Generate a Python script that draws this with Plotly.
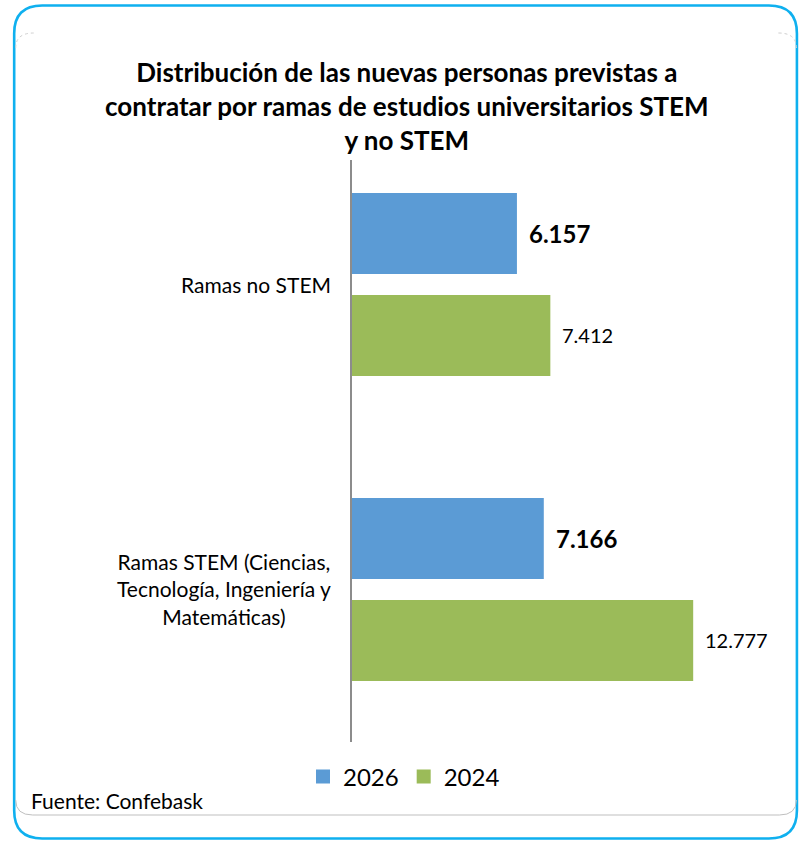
import plotly.graph_objects as go

categories = ["Ramas STEM (Ciencias,<br>Tecnología, Ingeniería y<br>Matemáticas)", "Ramas no STEM"]
values_2026 = [7166, 6157]
values_2024 = [12777, 7412]
labels_2026 = ["7.166", "6.157"]
labels_2024 = ["12.777", "7.412"]
series_names = ["2026", "2024"]
title_text = "<b>Distribución de las nuevas personas previstas a<br>contratar por ramas de estudios universitarios STEM<br>y no STEM</b>"
source_text = "Fuente: Confebask"

BLUE = "#5b9bd5"
GREEN = "#9bbb59"
FRAME = "#0fb0ef"
FONT = "Lato, Carlito, Calibri, sans-serif"

W, H = 802, 841
PL, PR, PT, PB = 352, 777.6, 160, 742          # plot area in page pixels
L, T = PL, PT
R, B = W - PR, H - PB
PW, PH = PR - PL, PB - PT


def px(x):
    return (x - PL) / PW


def py(y):
    return (PB - y) / PH


def P(x, y):
    return f"{px(x):.5f},{py(y):.5f}"


def rounded_path(x0, y0, x1, y1, r):
    return (f"M {P(x0 + r, y0)} L {P(x1 - r, y0)} Q {P(x1, y0)} {P(x1, y0 + r)} "
            f"L {P(x1, y1 - r)} Q {P(x1, y1)} {P(x1 - r, y1)} L {P(x0 + r, y1)} "
            f"Q {P(x0, y1)} {P(x0, y1 - r)} L {P(x0, y0 + r)} Q {P(x0, y0)} {P(x0 + r, y0)} Z")


fig = go.Figure()
fig.add_trace(go.Bar(
    y=categories, x=values_2024, orientation="h", name=series_names[1],
    marker=dict(color=GREEN, line=dict(width=2, color=GREEN)), legendrank=2,
))
fig.add_trace(go.Bar(
    y=categories, x=values_2026, orientation="h", name=series_names[0],
    marker=dict(color=BLUE, line=dict(width=2, color=BLUE)), legendrank=1,
))

annotations = []
for cat, v, t in zip(categories, values_2026, labels_2026):
    annotations.append(dict(x=v, y=cat, xref="x", yref="y", text=f"<b>{t}</b>", showarrow=False,
                            xanchor="left", yanchor="middle", xshift=11, yshift=51,
                            font=dict(family=FONT, size=24, color="#000000")))
for cat, v, t in zip(categories, values_2024, labels_2024):
    annotations.append(dict(x=v, y=cat, xref="x", yref="y", text=t, showarrow=False,
                            xanchor="left", yanchor="middle", xshift=11, yshift=-51,
                            font=dict(family=FONT, size=20, color="#000000")))
for cat in categories:
    annotations.append(dict(x=px(333), y=cat, xref="paper", yref="y", text=cat, showarrow=False,
                            xanchor="right", yanchor="middle", align="center",
                            font=dict(family=FONT, size=21, color="#000000")))
annotations.append(dict(x=px(29), y=py(800), xref="paper", yref="paper", text=source_text,
                        showarrow=False, xanchor="left", yanchor="middle",
                        font=dict(family=FONT, size=21, color="#000000")))
annotations.append(dict(x=px(407), y=py(54), xref="paper", yref="paper", text=title_text,
                        showarrow=False, xanchor="center", yanchor="top", align="center",
                        font=dict(family=FONT, size=26, color="#000000")))

shapes = [
    # outer rounded frame
    dict(type="path", xref="paper", yref="paper", path=rounded_path(14.5, 5.5, 796.5, 838.5, 28),
         line=dict(color=FRAME, width=2.6), fillcolor="rgba(0,0,0,0)", layer="below"),
    # inner faint frame: bottom line and dotted corners
    dict(type="path", xref="paper", yref="paper",
         path=f"M {P(16, 800)} Q {P(16, 815)} {P(33, 815)} L {P(779, 815)} Q {P(796, 815)} {P(796, 800)}",
         line=dict(color="#bfbfbf", width=1), fillcolor="rgba(0,0,0,0)", layer="below"),
    dict(type="path", xref="paper", yref="paper",
         path=f"M {P(16, 48)} Q {P(16, 33)} {P(34, 33)}",
         line=dict(color="#d0d0d0", width=1, dash="dot"), fillcolor="rgba(0,0,0,0)", layer="below"),
    dict(type="path", xref="paper", yref="paper",
         path=f"M {P(778, 33)} Q {P(796, 33)} {P(796, 48)}",
         line=dict(color="#d0d0d0", width=1, dash="dot"), fillcolor="rgba(0,0,0,0)", layer="below"),
]

fig.update_layout(
    width=W, height=H,
    margin=dict(l=L, r=R, t=T, b=B),
    paper_bgcolor="white", plot_bgcolor="white",
    barmode="group", bargap=0.331, bargroupgap=0.225,
    xaxis=dict(range=[0, 16000], visible=False, fixedrange=True),
    yaxis=dict(type="category", categoryorder="array", categoryarray=categories,
               range=[-0.5, 1.408], showticklabels=False, ticks="", showgrid=False,
               showline=True, linecolor="#8c8c8c", linewidth=1.5, zeroline=False,
               fixedrange=True),
    showlegend=True,
    legend=dict(orientation="h", xref="container", yref="container",
                x=404 / W, xanchor="center", y=(H - 777) / H, yanchor="middle",
                font=dict(family=FONT, size=24, color="#000000"),
                bgcolor="rgba(0,0,0,0)", itemwidth=30),
    annotations=annotations,
    shapes=shapes,
)

fig.write_html("out.html", config={"displayModeBar": False},
               post_script="document.body.style.margin='0';document.body.style.overflow='hidden';")
